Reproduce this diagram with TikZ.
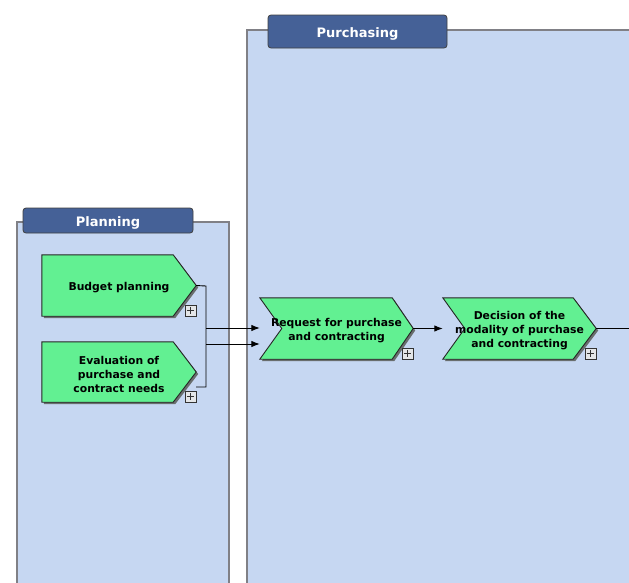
\documentclass[tikz,border=0pt]{standalone}
\usepackage{fontspec}
\setmainfont{DejaVu Sans}
\usetikzlibrary{arrows.meta}

\definecolor{lanefill}{RGB}{198,215,242}
\definecolor{laneline}{RGB}{128,128,134}
\definecolor{headfill}{RGB}{69,97,151}
\definecolor{funcfill}{RGB}{98,240,146}
\definecolor{funcshade}{RGB}{105,110,110}
\definecolor{iconfill}{RGB}{228,230,232}

\pgfdeclarelayer{lanes}
\pgfdeclarelayer{shapes}
\pgfsetlayers{lanes,shapes,main}

\tikzset{
  lane/.style={fill=lanefill, draw=laneline, line width=1.5pt},
  lanehead/.style={fill=headfill, draw=black!75, line width=0.8pt, rounded corners=3pt,
    inner sep=0pt},
  headtext/.style={text=white, font=\bfseries\fontsize{13}{15}\selectfont, yshift=-2pt},
  func/.style={inner sep=0pt, minimum width=153pt, minimum height=61pt},
  functext/.style={align=center, inner sep=0pt, yshift=-2pt,
    font=\bfseries\fontsize{10.8}{14}\selectfont},
  funcbox/.style={fill=funcfill, draw=black!85, line width=0.9pt, line join=miter},
  plusicon/.style={draw=black!80, fill=iconfill, line width=0.6pt, inner sep=0pt,
    minimum size=11pt, anchor=south east,
    path picture={\draw[line width=0.6pt]
      ([yshift=-2pt]path picture bounding box.north) -- ([yshift=2pt]path picture bounding box.south)
      ([xshift=2pt]path picture bounding box.west) -- ([xshift=-2pt]path picture bounding box.east);}},
  link/.style={draw=black, line width=0.9pt},
  flow/.style={link, -{Latex[length=8.5pt,width=6.5pt]}},
}

% chevron outline of a function node: #1 node, #2 notch depth, #3 tip depth
\newcommand\funcshape[3]{%
  \begin{pgfonlayer}{shapes}
    \fill[funcshade]
      ([shift={(2,2)}]#1.north west) -- ([shift={(2,2)},xshift=-#3]#1.north east)
      -- ([shift={(2,2)}]#1.east) -- ([shift={(2,2)},xshift=-#3]#1.south east)
      -- ([shift={(2,2)}]#1.south west) -- ([shift={(2,2)},xshift=#2]#1.west) -- cycle;
    \draw[funcbox]
      (#1.north west) -- ([xshift=-#3]#1.north east) -- (#1.east)
      -- ([xshift=-#3]#1.south east) -- (#1.south west) -- ([xshift=#2]#1.west) -- cycle;
  \end{pgfonlayer}}

\begin{document}
\begin{tikzpicture}[x=1pt, y=-1pt]
  \clip (0,0) rectangle (629,582);

  % page background and swimlanes
  \begin{pgfonlayer}{lanes}
    \fill[white] (0,0) rectangle (629,582);
    \draw[lane] (17,222) rectangle (229,600);
    \draw[lane] (247,30) rectangle (660,600);
  \end{pgfonlayer}
  \node[lanehead, minimum width=170pt, minimum height=25pt,
        label={[headtext]center:Planning}] (hplan) at (108,220.5) {};
  \node[lanehead, minimum width=179pt, minimum height=33pt,
        label={[headtext]center:Purchasing}] (hpurch) at (357.5,31.5) {};

  % functions
  \node[func, minimum width=154pt,
        label={[functext]center:Budget planning}] (budget) at (119,285.5) {};
  \node[func, minimum width=154pt, minimum height=60pt,
        label={[functext]center:{Evaluation of\\purchase and\\contract needs}}] (needs) at (119,372) {};
  \node[func,
        label={[functext]center:{Request for purchase\\and contracting}}] (request) at (336.5,328.5) {};
  \node[func,
        label={[functext]center:{Decision of the\\modality of purchase\\and contracting}}] (decision) at (519.5,328.5) {};

  \funcshape{budget}{0pt}{23pt}
  \funcshape{needs}{0pt}{23pt}
  \funcshape{request}{22pt}{21pt}
  \funcshape{decision}{22pt}{23pt}

  \node[plusicon] (ibudget) at (budget.south east) {};
  \node[plusicon] (ineeds) at (needs.south east) {};
  \node[plusicon] (irequest) at (request.south east) {};
  \node[plusicon] (idecision) at (decision.south east) {};

  % connectors
  \coordinate (jtop) at (206,286);
  \coordinate (jbot) at (206,387);
  \coordinate (nend) at (196,387);
  \coordinate (ja) at (206,328);
  \coordinate (jb) at (206,344);
  \coordinate (outend) at (640,328.5);

  \draw[link] (budget.east) -- (jtop) -- (jbot) -- (nend);
  \draw[flow] (ja) -- (ja -| request.west);
  \draw[flow] (jb) -- (jb -| request.west);
  \draw[flow] (request.east) -- (decision.west);
  \draw[link] (decision.east) -- (outend);
\end{tikzpicture}
\end{document}
